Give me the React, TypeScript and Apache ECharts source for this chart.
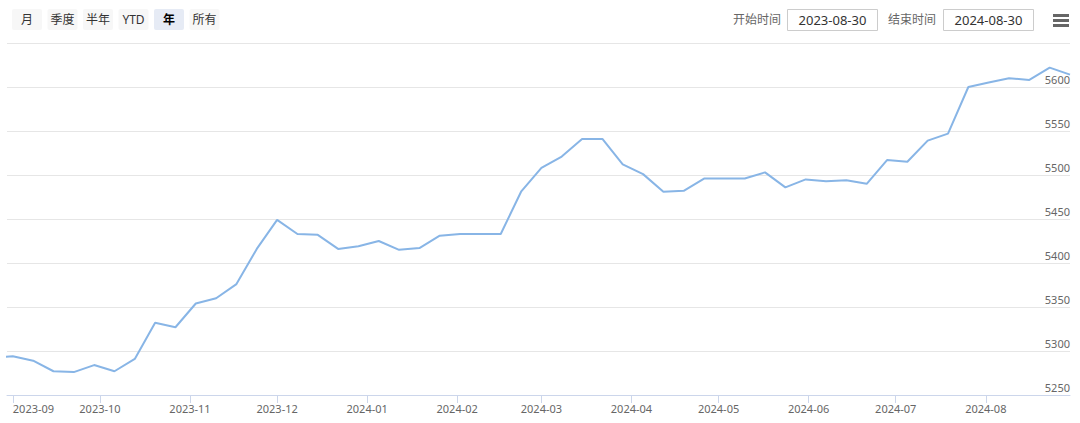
import React, { useEffect, useRef } from "react";
import * as echarts from "echarts";

const dates: string[] = [
  "2023-08-25", "2023-09-01", "2023-09-08", "2023-09-15", "2023-09-22", "2023-09-29",
  "2023-10-06", "2023-10-13", "2023-10-20", "2023-10-27",
  "2023-11-03", "2023-11-10", "2023-11-17", "2023-11-24",
  "2023-12-01", "2023-12-08", "2023-12-15", "2023-12-22", "2023-12-29",
  "2024-01-05", "2024-01-12", "2024-01-19", "2024-01-26",
  "2024-02-02", "2024-02-09", "2024-02-16", "2024-02-23",
  "2024-03-01", "2024-03-08", "2024-03-15", "2024-03-22", "2024-03-29",
  "2024-04-05", "2024-04-12", "2024-04-19", "2024-04-26",
  "2024-05-03", "2024-05-10", "2024-05-17", "2024-05-24", "2024-05-31",
  "2024-06-07", "2024-06-14", "2024-06-21", "2024-06-28",
  "2024-07-05", "2024-07-12", "2024-07-19", "2024-07-26",
  "2024-08-02", "2024-08-09", "2024-08-16", "2024-08-23", "2024-08-30",
];

const values: number[] = [
  5292, 5294, 5289, 5277, 5276, 5284,
  5277, 5291, 5332, 5327,
  5354, 5360, 5376, 5416,
  5449, 5433, 5432, 5416, 5419,
  5425, 5415, 5417, 5431,
  5433, 5433, 5433, 5481,
  5508, 5521, 5541, 5541, 5512,
  5501, 5481, 5482, 5496,
  5496, 5496, 5503, 5486, 5495,
  5493, 5494, 5490, 5517,
  5515, 5539, 5547, 5600,
  5605, 5610, 5608, 5622, 5614,
];

const monthTicks: string[] = [
  "2023-09", "2023-10", "2023-11", "2023-12", "2024-01", "2024-02",
  "2024-03", "2024-04", "2024-05", "2024-06", "2024-07", "2024-08",
];

const rangeButtons: string[] = ["月", "季度", "半年", "YTD", "年", "所有"];
const selectedButton = "年";
const startDate = "2023-08-30";
const endDate = "2024-08-30";

const FONT = '"Noto Sans", "Noto Sans CJK SC", sans-serif';

function ts(s: string): number {
  const p = s.split("-").map(Number);
  return new Date(p[0], p[1] - 1, p[2] || 1).getTime();
}

export default function App() {
  const ref = useRef<HTMLDivElement>(null);
  useEffect(() => {
    if (!ref.current) return;
    const chart = echarts.init(ref.current, null, { renderer: "svg" });
    const monthTs = monthTicks.map((m) => ts(m + "-01"));
    const labelMap: Record<string, string> = {};
    monthTs.forEach((t, i) => (labelMap[String(t)] = monthTicks[i]));

    const graphics: any[] = [];
    rangeButtons.forEach((b, i) => {
      const x = 12 + i * 35.5;
      const sel = b === selectedButton;
      graphics.push({
        type: "rect",
        shape: { x, y: 9, width: 30, height: 21, r: 2 },
        style: { fill: sel ? "#e6ebf5" : "#f7f7f7" },
      });
      graphics.push({
        type: "text",
        x: x + 15,
        y: 19.5,
        style: {
          text: b,
          fill: sel ? "#000000" : "#333333",
          fontSize: 12,
          fontWeight: sel ? "bold" : "normal",
          fontFamily: FONT,
          align: "center",
          verticalAlign: "middle",
        },
      });
    });
    const inputs = [
      { label: "开始时间", lx: 733, bx: 787, v: startDate },
      { label: "结束时间", lx: 888, bx: 943, v: endDate },
    ];
    inputs.forEach((it) => {
      graphics.push({
        type: "text",
        x: it.lx,
        y: 19.5,
        style: {
          text: it.label,
          fill: "#666666",
          fontSize: 12,
          fontFamily: FONT,
          align: "left",
          verticalAlign: "middle",
        },
      });
      graphics.push({
        type: "rect",
        shape: { x: it.bx + 0.5, y: 9.5, width: 90, height: 21 },
        style: { fill: "#ffffff", stroke: "#cccccc", lineWidth: 1 },
      });
      graphics.push({
        type: "text",
        x: it.bx + 45.5,
        y: 20,
        style: {
          text: it.v,
          fill: "#333333",
          fontSize: 13,
          fontFamily: FONT,
          align: "center",
          verticalAlign: "middle",
        },
      });
    });
    [14, 19, 24].forEach((y) => {
      graphics.push({
        type: "rect",
        shape: { x: 1053, y, width: 16, height: 3 },
        style: { fill: "#666666" },
      });
    });

    chart.setOption({
      animation: false,
      backgroundColor: "#ffffff",
      textStyle: { fontFamily: FONT },
      grid: { left: 7, right: 10, top: 43, bottom: 28, containLabel: false },
      graphic: graphics,
      xAxis: {
        type: "value",
        min: ts(startDate),
        max: ts(endDate),
        axisLine: { show: true, lineStyle: { color: "#ccd6eb", width: 1 } },
        axisTick: {
          show: true,
          length: 8,
          lineStyle: { color: "#ccd6eb" },
          customValues: monthTs,
        },
        splitLine: { show: false },
        axisLabel: {
          customValues: monthTs,
          color: "#666666",
          fontSize: 11,
          margin: 8,
          alignMinLabel: "left",
          showMinLabel: true,
          showMaxLabel: true,
          formatter: (v: number) => labelMap[String(v)] || "",
        },
      },
      yAxis: {
        type: "value",
        position: "right",
        min: 5250,
        max: 5650,
        interval: 50,
        axisLine: { show: false },
        axisTick: { show: false },
        splitLine: { show: true, lineStyle: { color: "#e6e6e6", width: 1 } },
        axisLabel: {
          inside: true,
          margin: 0,
          color: "#666666",
          fontSize: 11,
          verticalAlign: "bottom",
          padding: [0, 0, 2, 0],
          showMaxLabel: false,
          formatter: (v: number) => String(v),
        },
      },
      series: [
        {
          type: "line",
          data: dates.map((d, i) => [ts(d), values[i]]),
          showSymbol: false,
          symbol: "none",
          clip: true,
          lineStyle: { color: "#88b5e6", width: 2 },
          itemStyle: { color: "#88b5e6" },
        },
      ],
    });
    return () => chart.dispose();
  }, []);
  return (
    <div
      ref={ref}
      style={{ position: "absolute", left: 0, top: 0, width: 1080, height: 423 }}
    />
  );
}
